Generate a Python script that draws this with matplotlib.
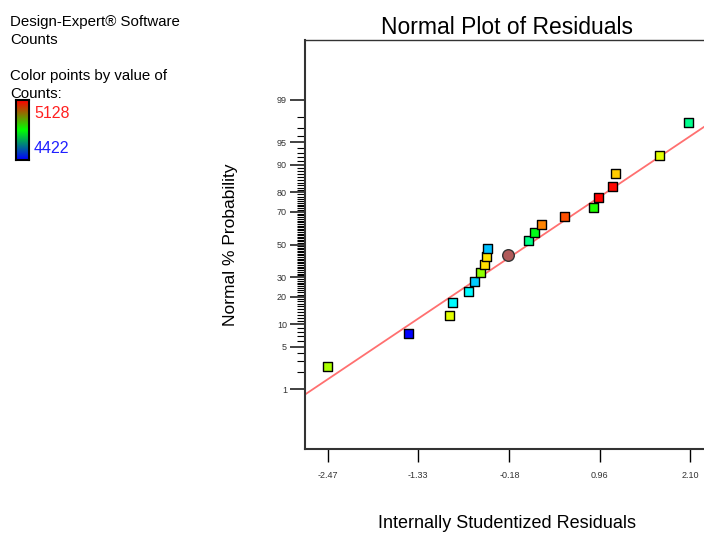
from statistics import NormalDist

import matplotlib
matplotlib.use("Agg")
import matplotlib.pyplot as plt
import numpy as np
from matplotlib.colors import LinearSegmentedColormap

plt.rcParams["font.family"] = ["Liberation Sans", "DejaVu Sans"]

# residuals (x) and normal % probability (y)
residuals = [-2.47, -1.45, -0.93, -0.90, -0.69, -0.62, -0.54, -0.49, -0.47, -0.46,
             0.06, 0.14, 0.22, 0.51, 0.88, 0.95, 1.12, 1.16, 1.71, 2.08]
probability = [2.5, 7.5, 12.5, 17.5, 22.5, 27.5, 32.5, 37.5, 42.5, 47.5,
               52.5, 57.5, 62.5, 67.5, 72.5, 77.5, 82.5, 87.5, 92.5, 97.5]
counts = [4893, 4422, 4930, 4598, 4598, 4563, 4874, 4973, 4970, 4556,
          4683, 4760, 5036, 5071, 4796, 5128, 5120, 4987, 4930, 4676]

# highlighted point
hl_residual = [-0.20]
hl_probability = [43.6]

# reference line z = slope * x + intercept
line_slope = 0.855
line_intercept = -0.054

count_min, count_max = 4422, 5128
x_ticks = [-2.47, -1.33, -0.18, 0.96, 2.10]
x_lim = (-2.76, 2.39)
y_major = [1, 5, 10, 20, 30, 50, 70, 80, 90, 95, 99]
y_minor = list(range(1, 100))
y_lim_pct = (0.05, 99.95)

nd = NormalDist()


def probit(p):
    return np.array([nd.inv_cdf(v / 100.0) for v in np.atleast_1d(p)])


point_cmap = LinearSegmentedColormap.from_list(
    "de", ["#0000ff", "#00ffff", "#00ff00", "#ffff00", "#ff0000"])
bar_cmap = LinearSegmentedColormap.from_list(
    "bar", ["#0000ff", "#00ff00", "#ff0000"])

fig = plt.figure(figsize=(7.04, 5.33), dpi=100)
ax = fig.add_axes([305 / 704, 84 / 533, 408 / 704, 409 / 533])

ax.set_xlim(*x_lim)
ax.set_ylim(probit(y_lim_pct[0])[0], probit(y_lim_pct[1])[0])

xs = np.array(x_lim)
ax.plot(xs, line_slope * xs + line_intercept, color="#ff7070", lw=1.3, zorder=2)

norm_c = (np.array(counts) - count_min) / (count_max - count_min)
ax.scatter(residuals, probit(probability), marker="s", s=42,
           c=point_cmap(norm_c), edgecolors="black", linewidths=1.0, zorder=3)
ax.scatter(hl_residual, probit(hl_probability), marker="o", s=70,
           c="#b05a5a", edgecolors="#333333", linewidths=1.0, zorder=3)

ax.set_xticks(x_ticks)
ax.set_xticklabels([f"{v:.2f}" for v in x_ticks], fontsize=6.5, color="#333333")
ax.tick_params(axis="x", direction="out", length=9, width=1, pad=7)

ax.set_yticks(probit(y_major))
ax.set_yticklabels([str(v) for v in y_major], fontsize=6.5, color="#333333")
ax.set_yticks(probit(y_minor), minor=True)
ax.tick_params(axis="y", which="major", direction="out", length=11, width=1.3,
               color="#333333", pad=2)
ax.tick_params(axis="y", which="minor", direction="out", length=6, width=0.8)

for side in ("left", "bottom"):
    ax.spines[side].set_linewidth(1.5)
    ax.spines[side].set_color("#333333")
ax.spines["top"].set_linewidth(1.0)
ax.spines["top"].set_color("#333333")
ax.spines["right"].set_visible(False)

fig.text(507 / 704, 1 - 28 / 533, "Normal Plot of Residuals", fontsize=16.5,
         ha="center", va="center")
fig.text(507 / 704, 1 - 524 / 533, "Internally Studentized Residuals", fontsize=13,
         ha="center", va="center")
fig.text(230 / 704, 1 - 245 / 533, "Normal % Probability", fontsize=12.5,
         ha="center", va="center", rotation=90)

# left info panel
fig.text(10 / 704, 1 - 22 / 533, "Design-Expert® Software", fontsize=10.8, va="center")
fig.text(10 / 704, 1 - 40 / 533, "Counts", fontsize=10.8, va="center")
fig.text(10 / 704, 1 - 76 / 533, "Color points by value of", fontsize=10.8, va="center")
fig.text(10 / 704, 1 - 94 / 533, "Counts:", fontsize=10.8, va="center")

cax = fig.add_axes([16 / 704, 1 - 160 / 533, 13 / 704, 60 / 533])
grad = np.linspace(1, 0, 100).reshape(-1, 1)
cax.imshow(grad, cmap=bar_cmap, aspect="auto", vmin=0, vmax=1)
cax.set_xticks([])
cax.set_yticks([])
for s in cax.spines.values():
    s.set_linewidth(1.5)
    s.set_color("black")
fig.text(34 / 704, 1 - 113 / 533, str(count_max), fontsize=11.5, color="#ff2020",
         va="center")
fig.text(34 / 704, 1 - 148 / 533, str(count_min), fontsize=11.5, color="#2020ff",
         va="center")

fig.savefig("out.png", dpi=100)
